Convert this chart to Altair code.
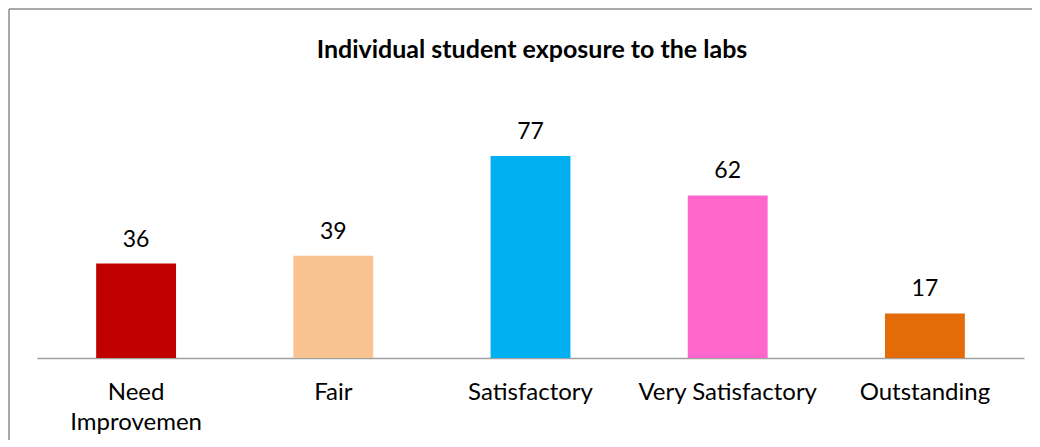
import altair as alt
import pandas as pd

categories = ["Need Improvemen", "Fair", "Satisfactory", "Very Satisfactory", "Outstanding"]
values = [36, 39, 77, 62, 17]
colors = ["#C00000", "#F8C390", "#00B0F0", "#FF66CC", "#E36C09"]
title_text = "Individual student exposure to the labs"

df = pd.DataFrame({"category": categories, "value": values, "color": colors})

FONT = "Lato"

base = alt.Chart(df).encode(
    x=alt.X(
        "category:N",
        sort=categories,
        scale=alt.Scale(paddingInner=0.595, paddingOuter=0.3),
        axis=alt.Axis(
            title=None,
            labelAngle=0,
            labelFont=FONT,
            labelFontSize=24,
            labelColor="#000000",
            labelPadding=22,
            labelLineHeight=30,
            labelExpr="datum.value == 'Need Improvemen' ? split(datum.value, ' ') : datum.value",
            ticks=False,
            domainColor="#A0A0A0",
            domainWidth=1.5,
            grid=False,
        ),
    ),
    y=alt.Y(
        "value:Q",
        scale=alt.Scale(domain=[0, 90], nice=False),
        axis=None,
    ),
)

bars = base.mark_bar().encode(color=alt.Color("color:N", scale=None))

labels = base.mark_text(
    baseline="bottom", dy=-12, font=FONT, fontSize=23, color="#000000"
).encode(text="value:Q")

one = alt.Data(values=[{"t": title_text}])

frame_top = alt.Chart(one).mark_rule(stroke="#8C8C8C", strokeWidth=1.5).encode(
    x=alt.value(-28), x2=alt.value(1100), y=alt.value(-113)
)
frame_left = alt.Chart(one).mark_rule(stroke="#8C8C8C", strokeWidth=1.5).encode(
    x=alt.value(-28), y=alt.value(-113), y2=alt.value(500)
)

title = alt.Chart(one).mark_text(
    font=FONT, fontSize=25, fontWeight="bold", color="#000000",
    align="center", baseline="middle"
).encode(text="t:N", x=alt.value(495), y=alt.value(-72))

chart = alt.layer(frame_top, frame_left, bars, labels, title).properties(
    width=987,
    height=236,
    autosize=alt.AutoSizeParams(type="none"),
    padding={"left": 29, "top": 114, "right": 8, "bottom": 82},
).configure_view(stroke=None)

chart.save("out.html", embed_options={"renderer": "svg", "actions": False})
